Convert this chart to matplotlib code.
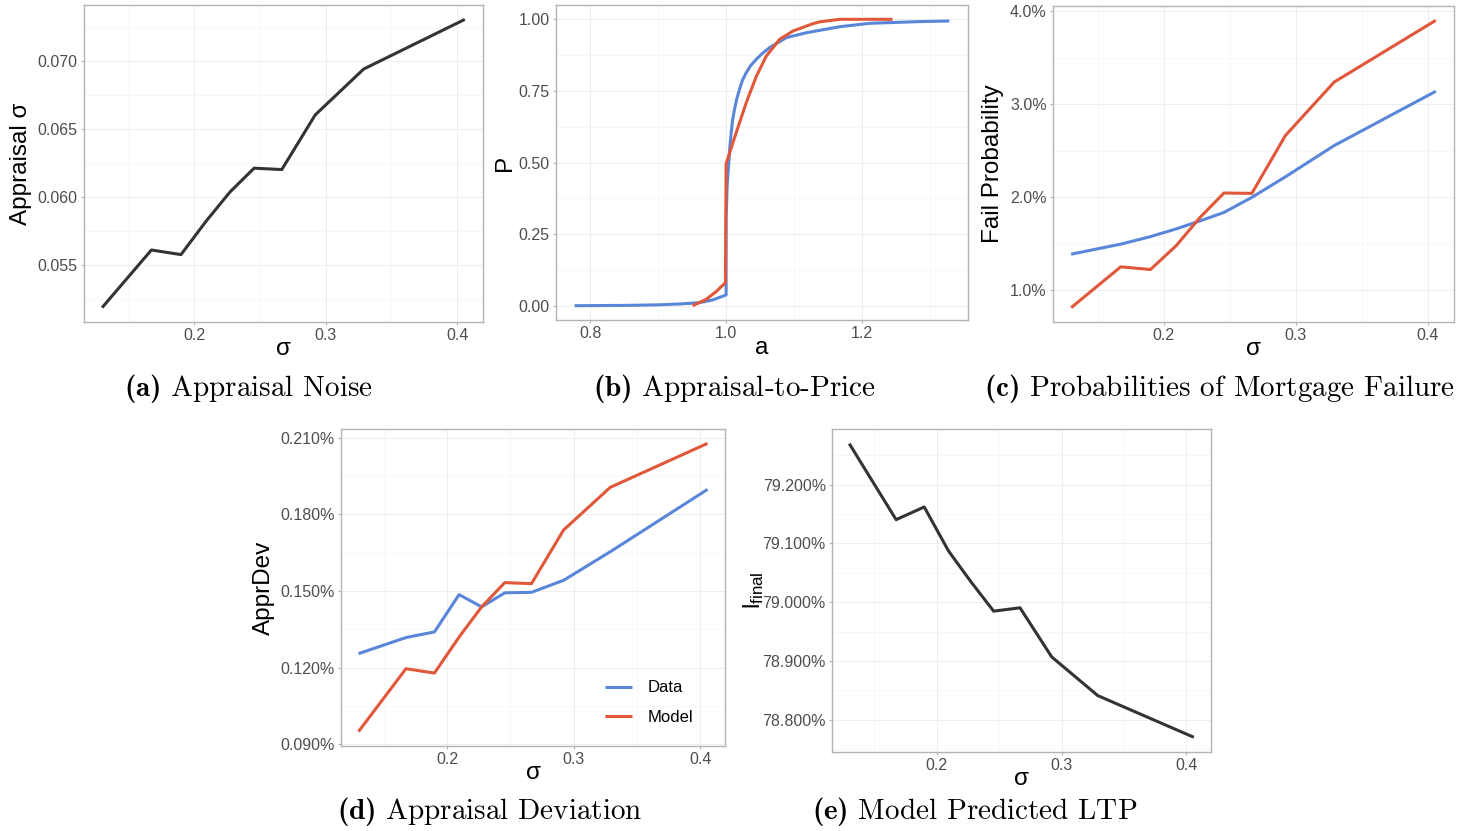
import matplotlib
matplotlib.use("Agg")
import matplotlib.pyplot as plt
from matplotlib.ticker import FixedLocator, MultipleLocator, FuncFormatter

# appraisal noise grid shared by panels a, c, d, e
SIGMA = [0.130, 0.1675, 0.190, 0.2095, 0.2273, 0.2456, 0.2667, 0.2921, 0.329, 0.4059]

APPRAISAL_SD = [0.05187, 0.05611, 0.05577, 0.05828, 0.06038, 0.06213, 0.06203, 0.06605, 0.06943, 0.07308]

# appraisal-to-price CDF
ATP_DATA_A = [0.777, 0.85, 0.90, 0.931, 0.9606, 0.980, 1.0, 1.0, 1.0015, 1.0039, 1.0055, 1.0074,
              1.0095, 1.0123, 1.0155, 1.0196, 1.024, 1.0295, 1.036, 1.0443, 1.053, 1.0639,
              1.0886, 1.118, 1.167, 1.2115, 1.285, 1.3286]
ATP_DATA_P = [0.0, 0.001, 0.003, 0.006, 0.0105, 0.02, 0.0375, 0.30, 0.42, 0.498, 0.555, 0.603,
              0.648, 0.685, 0.72, 0.755, 0.787, 0.813, 0.838, 0.860, 0.88, 0.901,
              0.936, 0.953, 0.974, 0.986, 0.992, 0.994]
ATP_MODEL_A = [0.9507, 0.9705, 0.9852, 0.999, 1.0, 1.0098, 1.0196, 1.0295, 1.0443, 1.059,
               1.0787, 1.0984, 1.128, 1.1377, 1.167, 1.245]
ATP_MODEL_P = [0.0, 0.022, 0.049, 0.0805, 0.496, 0.568, 0.638, 0.708, 0.80, 0.871,
               0.930, 0.959, 0.985, 0.991, 1.0, 1.0]

# failure probabilities, percent
FAIL_DATA = [1.388, 1.496, 1.577, 1.66, 1.745, 1.837, 1.999, 2.22, 2.556, 3.14]
FAIL_MODEL = [0.813, 1.252, 1.223, 1.48, 1.78, 2.046, 2.042, 2.664, 3.239, 3.903]

# appraisal deviation, percent
APPRDEV_DATA = [0.1255, 0.1318, 0.1340, 0.1486, 0.1438, 0.1493, 0.1495, 0.1542, 0.1654, 0.1898]
APPRDEV_MODEL = [0.0950, 0.1196, 0.1179, 0.1320, 0.1438, 0.1533, 0.1529, 0.1739, 0.1906, 0.2078]

# model loan-to-price, percent
LTP_FINAL = [79.2698, 79.1404, 79.162, 79.087, 79.035, 78.9847, 78.9904, 78.9068, 78.8409, 78.770]

BLUE = "#5A86D9"
RED = "#E1573A"
DARK = "#333333"
LW = 2.2

plt.rcParams["font.family"] = ["Liberation Sans", "DejaVu Sans"]
# captions are set in Computer Modern with a bold tag
plt.rcParams["mathtext.fontset"] = "custom"
plt.rcParams["mathtext.rm"] = "cmr10"
plt.rcParams["mathtext.bf"] = "cmb10"


def style_axes(ax, xmajor, xminor, ymajor, yminor, yfmt, xfmt="{:.1f}"):
    ax.xaxis.set_major_locator(FixedLocator(xmajor))
    ax.xaxis.set_minor_locator(MultipleLocator(xminor))
    ax.yaxis.set_major_locator(FixedLocator(ymajor))
    ax.yaxis.set_minor_locator(MultipleLocator(yminor))
    ax.xaxis.set_major_formatter(FuncFormatter(lambda v, p: xfmt.format(v)))
    ax.yaxis.set_major_formatter(FuncFormatter(lambda v, p: yfmt.format(v)))
    ax.grid(which="major", color="#EBEBEB", linewidth=0.6)
    ax.grid(which="minor", color="#F4F4F4", linewidth=0.4)
    ax.set_axisbelow(True)
    for s in ax.spines.values():
        s.set_color("#B3B3B3")
        s.set_linewidth(1.0)
    ax.tick_params(which="major", length=2.5, width=0.8, color="#B3B3B3",
                   labelsize=11.5, labelcolor="#4D4D4D", pad=2)
    ax.tick_params(which="minor", length=0)
    ax.margins(0.05)


def sigma_label(ax):
    ax.set_xlabel("σ", fontsize=17.5, labelpad=-4)


def caption(fig, x, y, tag, text):
    fig.text(x, y, r"$\mathbf{(" + tag + r")}$ " + text, family="cmr10",
             fontsize=21, ha="center", va="center")


fig = plt.figure(figsize=(14.6, 8.31), dpi=100)

# (a) appraisal noise
ax = fig.add_axes([0.0575, 0.6125, 0.2733, 0.3815])
ax.plot(SIGMA, APPRAISAL_SD, color=DARK, lw=LW, solid_capstyle="butt")
style_axes(ax, [0.2, 0.3, 0.4], 0.05, [0.055, 0.060, 0.065, 0.070], 0.0025, "{:.3f}")
sigma_label(ax)
ax.set_ylabel("Appraisal σ", fontsize=17.5)

# (b) appraisal-to-price
ax = fig.add_axes([0.3808, 0.6149, 0.2822, 0.3791])
ax.plot(ATP_DATA_A, ATP_DATA_P, color=BLUE, lw=LW, solid_capstyle="butt")
ax.plot(ATP_MODEL_A, ATP_MODEL_P, color=RED, lw=LW, solid_capstyle="butt")
style_axes(ax, [0.8, 1.0, 1.2], 0.1, [0.0, 0.25, 0.5, 0.75, 1.0], 0.125, "{:.2f}")
ax.set_xlabel("a", fontsize=17.5, labelpad=-3)
ax.set_ylabel("P", fontsize=17.5, labelpad=2)

# (c) mortgage failure
ax = fig.add_axes([0.7212, 0.6125, 0.2747, 0.3803])
ax.plot(SIGMA, FAIL_DATA, color=BLUE, lw=LW, solid_capstyle="butt")
ax.plot(SIGMA, FAIL_MODEL, color=RED, lw=LW, solid_capstyle="butt")
style_axes(ax, [0.2, 0.3, 0.4], 0.05, [1.0, 2.0, 3.0, 4.0], 0.5, "{:.1f}%")
sigma_label(ax)
ax.set_ylabel("Fail Probability", fontsize=17.5)

# (d) appraisal deviation
ax = fig.add_axes([0.2336, 0.1023, 0.2630, 0.3815])
ax.plot(SIGMA, APPRDEV_DATA, color=BLUE, lw=LW, solid_capstyle="butt", label="Data")
ax.plot(SIGMA, APPRDEV_MODEL, color=RED, lw=LW, solid_capstyle="butt", label="Model")
style_axes(ax, [0.2, 0.3, 0.4], 0.05, [0.09, 0.12, 0.15, 0.18, 0.21], 0.015, "{:.3f}%")
sigma_label(ax)
ax.set_ylabel("ApprDev", fontsize=17.5)
ax.legend(loc="lower right", bbox_to_anchor=(0.955, 0.02), frameon=False, fontsize=12,
          handlelength=1.6, handletextpad=0.9, labelspacing=0.85)

# (e) model predicted LTP
ax = fig.add_axes([0.5699, 0.0951, 0.2596, 0.3887])
ax.plot(SIGMA, LTP_FINAL, color=DARK, lw=LW, solid_capstyle="butt")
style_axes(ax, [0.2, 0.3, 0.4], 0.05, [78.8, 78.9, 79.0, 79.1, 79.2], 0.05, "{:.3f}%")
sigma_label(ax)
ax.set_ylabel(r"$\mathregular{l_{final}}$", fontsize=17.5, labelpad=-3)

caption(fig, 248 / 1460, 1 - 389 / 831, "a", "Appraisal Noise")
caption(fig, 734 / 1460, 1 - 389 / 831, "b", "Appraisal-to-Price")
caption(fig, 1219 / 1460, 1 - 389 / 831, "c", "Probabilities of Mortgage Failure")
caption(fig, 490 / 1460, 1 - 812 / 831, "d", "Appraisal Deviation")
caption(fig, 975 / 1460, 1 - 812 / 831, "e", "Model Predicted LTP")

fig.savefig("out.png", dpi=100)
